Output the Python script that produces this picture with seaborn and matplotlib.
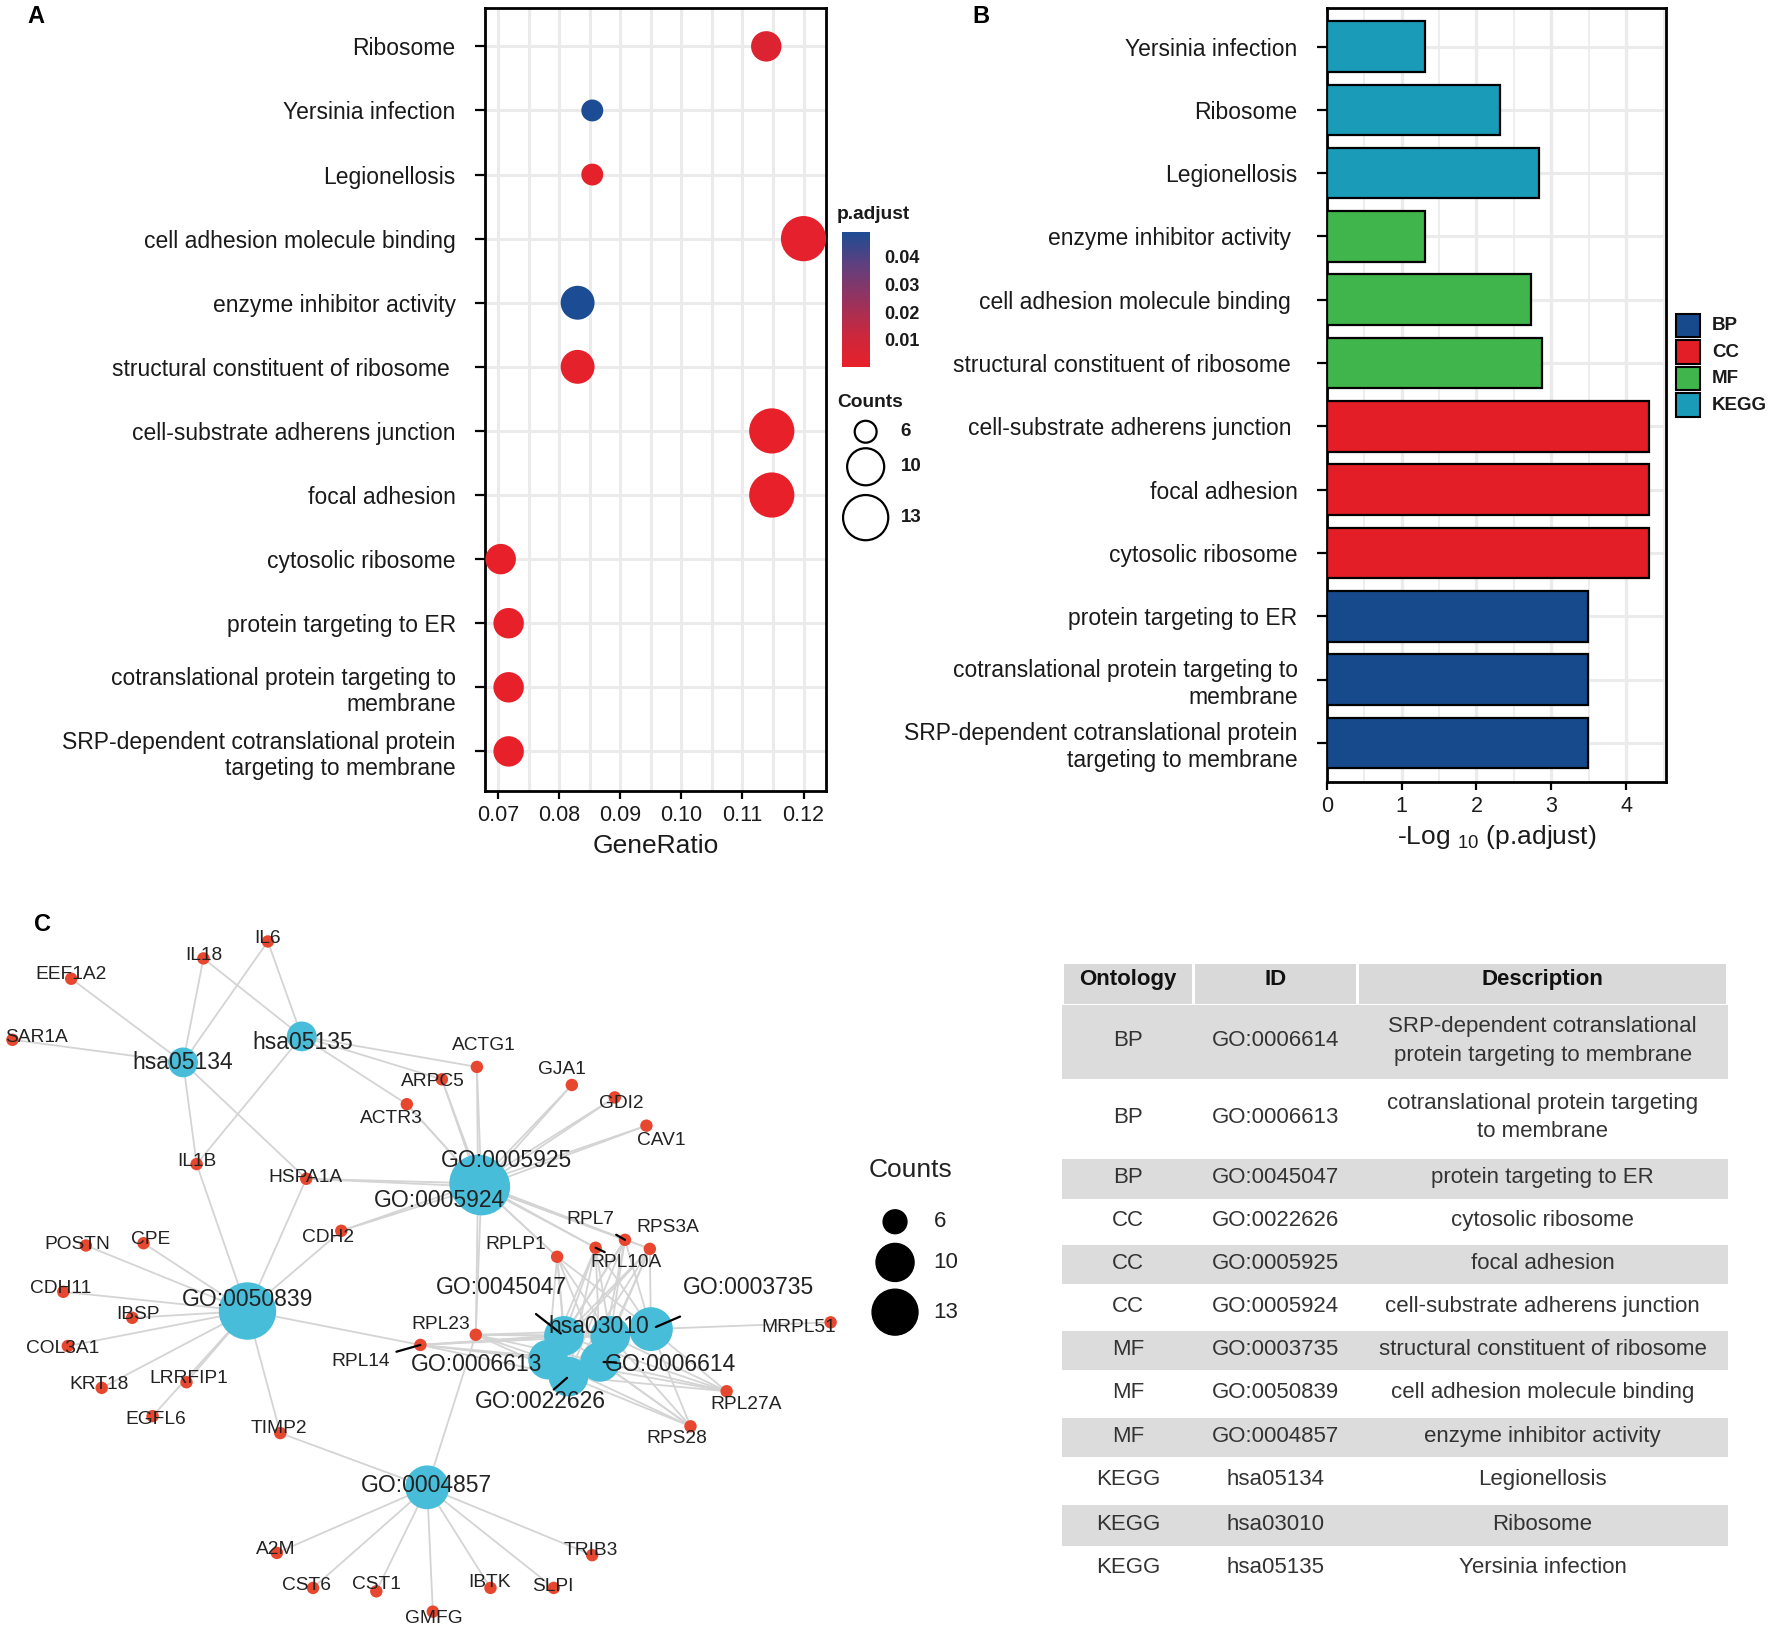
import numpy as np
import pandas as pd
import matplotlib
matplotlib.use("Agg")
import matplotlib.pyplot as plt
import seaborn as sns
from matplotlib.colors import LinearSegmentedColormap, Normalize
from matplotlib.cm import ScalarMappable
from matplotlib.patches import Rectangle

# ---------------- data ----------------
ontology = ['BP', 'BP', 'BP', 'CC', 'CC', 'CC', 'MF', 'MF', 'MF', 'KEGG', 'KEGG', 'KEGG']
term_id = ['GO:0006614', 'GO:0006613', 'GO:0045047', 'GO:0022626', 'GO:0005925', 'GO:0005924',
           'GO:0003735', 'GO:0050839', 'GO:0004857', 'hsa05134', 'hsa03010', 'hsa05135']
description = ['SRP-dependent cotranslational protein targeting to membrane',
               'cotranslational protein targeting to membrane',
               'protein targeting to ER', 'cytosolic ribosome', 'focal adhesion',
               'cell-substrate adherens junction', 'structural constituent of ribosome',
               'cell adhesion molecule binding', 'enzyme inhibitor activity',
               'Legionellosis', 'Ribosome', 'Yersinia infection']
gene_ratio = [0.0717, 0.0717, 0.0717, 0.0704, 0.1148, 0.1148, 0.0830, 0.1200, 0.0830, 0.0854, 0.1139, 0.0854]
counts = [8, 8, 8, 8, 13, 13, 9, 13, 9, 6, 8, 6]
p_adjust = [3.2e-4, 3.2e-4, 3.2e-4, 5.0e-5, 5.0e-5, 5.0e-5, 1.35e-3, 1.86e-3, 0.049, 1.45e-3, 4.9e-3, 0.049]

orderA = ['Ribosome', 'Yersinia infection', 'Legionellosis', 'cell adhesion molecule binding',
          'enzyme inhibitor activity', 'structural constituent of ribosome',
          'cell-substrate adherens junction', 'focal adhesion', 'cytosolic ribosome',
          'protein targeting to ER', 'cotranslational protein targeting to membrane',
          'SRP-dependent cotranslational protein targeting to membrane']

axis_labels = {
    'SRP-dependent cotranslational protein targeting to membrane':
        'SRP-dependent cotranslational protein\ntargeting to membrane',
    'cotranslational protein targeting to membrane':
        'cotranslational protein targeting to\nmembrane',
}
labelsB_trailing = ['enzyme inhibitor activity', 'cell adhesion molecule binding',
                    'structural constituent of ribosome', 'cell-substrate adherens junction']
labelsA_trailing = ['structural constituent of ribosome']
table_labels = {
    'SRP-dependent cotranslational protein targeting to membrane':
        'SRP-dependent cotranslational\nprotein targeting to membrane',
    'cotranslational protein targeting to membrane':
        'cotranslational protein targeting\nto membrane',
}

onto_order = ['BP', 'CC', 'MF', 'KEGG']
onto_colors = ['#164A8C', '#E41E26', '#3FB54B', '#1A9BB8']

# network (layout coordinates)
genes = ['IL6', 'IL18', 'EEF1A2', 'SAR1A', 'IL1B', 'HSPA1A', 'ACTG1', 'ARPC5', 'ACTR3', 'GJA1',
         'GDI2', 'CAV1', 'CDH2', 'POSTN', 'CPE', 'CDH11', 'IBSP', 'COL3A1', 'KRT18', 'LRRFIP1',
         'EGFL6', 'TIMP2', 'RPL23', 'RPL14', 'RPLP1', 'RPL7', 'RPS3A', 'RPL10A', 'MRPL51',
         'RPL27A', 'RPS28', 'A2M', 'CST6', 'CST1', 'GMFG', 'IBTK', 'SLPI', 'TRIB3']
gene_x = [237, 180, 63, 11, 174, 271, 422, 391, 360, 506, 544, 572, 302, 76, 127, 56, 117, 60, 90,
          165, 135, 248, 421, 372, 493, 553, 575, 527, 735, 643, 611, 245, 277, 333, 383, 434, 490, 524]
gene_y = [833, 848, 866, 920, 1030, 1043, 944, 955, 977, 960, 971, 996, 1089, 1102, 1100, 1143,
          1166, 1191, 1228, 1223, 1253, 1268, 1181, 1190, 1112, 1097, 1105, 1104, 1170, 1231, 1262,
          1374, 1405, 1408, 1426, 1405, 1405, 1376]
gene_label_off = {
    'IL6': (0, -3), 'IL18': (0, -3), 'EEF1A2': (0, -4), 'SAR1A': (21, -2), 'IL1B': (0, -2),
    'HSPA1A': (-1, -1), 'ACTG1': (6, -19), 'ARPC5': (-8, 2), 'ACTR3': (-14, 13), 'GJA1': (-9, -14),
    'GDI2': (6, 5), 'CAV1': (13, 13), 'CDH2': (-12, 6), 'POSTN': (-8, -1), 'CPE': (6, -3),
    'CDH11': (-2, -3), 'IBSP': (5, -3), 'COL3A1': (-5, 2), 'KRT18': (-2, -3), 'LRRFIP1': (2, -3),
    'EGFL6': (3, 3), 'TIMP2': (-1, -4), 'RPL23': (-31, -9), 'RPL14': (-53, 15), 'RPLP1': (-37, -11),
    'RPL7': (-31, -18), 'RPS3A': (16, -19), 'RPL10A': (27, 13), 'MRPL51': (-28, 5),
    'RPL27A': (17, 12), 'RPS28': (-12, 11), 'A2M': (-1, -3), 'CST6': (-6, -2), 'CST1': (0, -6),
    'GMFG': (1, 6), 'IBTK': (-1, -5), 'SLPI': (-1, -1), 'TRIB3': (-1, -4)}

net_terms = ['hsa05134', 'hsa05135', 'GO:0005925', 'GO:0005924', 'GO:0050839', 'GO:0004857',
             'GO:0045047', 'hsa03010', 'GO:0003735', 'GO:0006613', 'GO:0006614', 'GO:0022626']
term_x = [162, 267, 423, 426, 219, 378, 499, 540, 576, 485, 531, 503]
term_y = [940, 917, 1047, 1050, 1160, 1316, 1182, 1182, 1176, 1203, 1205, 1218]
term_label_off = {
    'hsa05134': (0, 0), 'hsa05135': (1, 5), 'GO:0005925': (25, -20), 'GO:0005924': (-37, 12),
    'GO:0050839': (0, -10), 'GO:0004857': (-1, -2), 'GO:0045047': (-55, -43),
    'hsa03010': (-10, -8), 'GO:0003735': (86, -37), 'GO:0006613': (-63, 4),
    'GO:0006614': (62, 2), 'GO:0022626': (-25, 22)}
leader_start = {'GO:0045047': 0.55, 'GO:0003735': 0.7, 'GO:0006614': 0.77,
                'GO:0022626': 0.48, 'RPL14': 0.6, 'RPL7': 0.75, 'RPL10A': 0.7}

ribo8 = ['RPLP1', 'RPL7', 'RPL10A', 'RPS3A', 'RPL23', 'RPL14', 'RPL27A', 'RPS28']
adh13 = ['ACTG1', 'ARPC5', 'ACTR3', 'GJA1', 'GDI2', 'CAV1', 'HSPA1A', 'CDH2', 'RPL7', 'RPS3A',
         'RPL10A', 'RPLP1', 'RPL23']
term_genes = {
    'hsa05134': ['EEF1A2', 'SAR1A', 'IL18', 'IL6', 'IL1B', 'HSPA1A'],
    'hsa05135': ['IL18', 'IL6', 'IL1B', 'ACTG1', 'ARPC5', 'ACTR3'],
    'GO:0005925': adh13,
    'GO:0005924': adh13,
    'GO:0050839': ['POSTN', 'CPE', 'CDH11', 'IBSP', 'COL3A1', 'KRT18', 'LRRFIP1', 'EGFL6',
                   'TIMP2', 'IL1B', 'HSPA1A', 'CDH2', 'RPL14'],
    'GO:0004857': ['A2M', 'CST6', 'CST1', 'GMFG', 'IBTK', 'SLPI', 'TRIB3', 'TIMP2', 'RPL23'],
    'GO:0045047': ribo8, 'hsa03010': ribo8, 'GO:0003735': ribo8 + ['MRPL51'],
    'GO:0006613': ribo8, 'GO:0006614': ribo8, 'GO:0022626': ribo8,
}
legend_counts = [6, 10, 13]

# ---------------- setup ----------------
sns.set_style("white")
plt.rcParams['font.family'] = ['Liberation Sans', 'DejaVu Sans']
plt.rcParams['mathtext.fontset'] = 'custom'
plt.rcParams['mathtext.rm'] = 'Liberation Sans'
plt.rcParams['mathtext.it'] = 'Liberation Sans:italic'

W, H = 1568.0, 1444.0
fig = plt.figure(figsize=(17.72, 16.32), dpi=100)


def rect(x0, y0, x1, y1):
    return [x0 / W, 1 - y1 / H, (x1 - x0) / W, (y1 - y0) / H]


df = pd.DataFrame({'Ontology': ontology, 'ID': term_id, 'Description': description,
                   'GeneRatio': gene_ratio, 'Count': counts, 'p.adjust': p_adjust})
df['neglog'] = -np.log10(df['p.adjust'])

TXT = '#1a1a1a'
GRID = '#EBEBEB'

# ---------------- panel A ----------------
dfA = df.set_index('Description').loc[orderA].reset_index()
dfA['label'] = [axis_labels.get(d, d) + (' ' if d in labelsA_trailing else '') for d in dfA['Description']]
cmap = LinearSegmentedColormap.from_list(
    'padj', [(0.0, '#E8202A'), (0.25, '#C9283E'), (0.5, '#96335E'), (0.75, '#623F7E'), (1.0, '#1C4C94')])
norm = Normalize(vmin=min(p_adjust), vmax=max(p_adjust))
sizeA = (249, 1059)

axA = fig.add_axes(rect(429, 7, 731, 700))
sns.scatterplot(data=dfA, x='GeneRatio', y='label', hue='p.adjust', hue_norm=norm, palette=cmap,
                size='Count', size_norm=(6, 13), sizes=sizeA, legend=False, edgecolor='none',
                ax=axA, zorder=3)
axA.set_xlim(0.0678, 0.1237)
axA.set_ylim(len(orderA) - 1 + 0.62, -0.6)
axA.set_xticks([0.07, 0.08, 0.09, 0.10, 0.11, 0.12])
axA.set_xticklabels(['0.07', '0.08', '0.09', '0.10', '0.11', '0.12'])
axA.set_xticks([0.075, 0.085, 0.095, 0.105, 0.115], minor=True)
axA.set_axisbelow(True)
axA.grid(True, which='both', axis='x', color=GRID, lw=2.2)
axA.grid(True, which='major', axis='y', color=GRID, lw=2.2)
axA.tick_params(axis='y', which='major', length=7, width=1.6, color='black', pad=14,
                labelsize=16.5, labelcolor=TXT, left=True)
axA.tick_params(axis='x', which='major', length=6, width=1.6, color='black', pad=4,
                labelsize=15.5, labelcolor=TXT, bottom=True)
axA.tick_params(which='minor', length=0)
for s in axA.spines.values():
    s.set_color('black')
    s.set_linewidth(2)
axA.set_ylabel('')
axA.set_xlabel('GeneRatio', fontsize=19, color=TXT, labelpad=6)

# colorbar
cax = fig.add_axes(rect(745, 205, 770, 325))
cb = fig.colorbar(ScalarMappable(norm=norm, cmap=cmap), cax=cax)
cb.outline.set_visible(False)
cb.set_ticks([0.01, 0.02, 0.03, 0.04])
cb.set_ticklabels(['0.01', '0.02', '0.03', '0.04'])
cax.tick_params(direction='in', color='white', length=5, width=1.3, left=True, right=True,
                labelsize=13, pad=10, labelcolor=TXT)
for t in cax.get_yticklabels():
    t.set_fontweight('bold')

# ---------------- panel B ----------------
dfB = df.iloc[::-1].reset_index(drop=True)
dfB['label'] = [axis_labels.get(d, d) + (' ' if d in labelsB_trailing else '') for d in dfB['Description']]
axB = fig.add_axes(rect(1174, 7, 1474, 692))
sns.barplot(data=dfB, x='neglog', y='label', order=list(dfB['label']), hue='Ontology',
            hue_order=onto_order, palette=onto_colors, dodge=False, width=0.8, saturation=1,
            edgecolor='black', linewidth=1.6, legend=False, ax=axB, zorder=3)
axB.set_xlim(0, 4.53)
axB.set_ylim(len(dfB) - 1 + 0.62, -0.61)
axB.set_xticks([0, 1, 2, 3, 4])
axB.set_xticks([0.5, 1.5, 2.5, 3.5, 4.5], minor=True)
axB.set_axisbelow(True)
axB.grid(True, which='major', axis='x', color=GRID, lw=2.4)
axB.grid(True, which='minor', axis='x', color=GRID, lw=1.2)
axB.grid(True, which='major', axis='y', color=GRID, lw=2.2)
axB.tick_params(axis='y', which='major', length=7, width=1.6, color='black', pad=14,
                labelsize=16.5, labelcolor=TXT, left=True)
axB.tick_params(axis='x', which='major', length=6, width=1.6, color='black', pad=4,
                labelsize=15.5, labelcolor=TXT, bottom=True)
axB.tick_params(which='minor', length=0)
for s in axB.spines.values():
    s.set_color('black')
    s.set_linewidth(2)
axB.set_ylabel('')
axB.set_xlabel(r'-Log $_{10}$ (p.adjust)', fontsize=19, color=TXT, labelpad=4)

# ---------------- overlay (legends, network, table) ----------------
ov = fig.add_axes([0, 0, 1, 1])
ov.set_xlim(0, W)
ov.set_ylim(H, 0)
ov.axis('off')
ov.patch.set_visible(False)

# panel letters
for lab, (x, y) in zip(['A', 'B', 'C'], [(32, 15), (868, 15), (38, 818)]):
    ov.text(x, y, lab, fontsize=17, fontweight='bold', ha='center', va='center', color='black')

# panel A legends
ov.text(740, 190, 'p.adjust', fontsize=13.8, fontweight='bold', ha='left', va='center', color=TXT)
ov.text(741, 356, 'Counts', fontsize=13.8, fontweight='bold', ha='left', va='center', color=TXT)
legA_y = [382, 413, 458]
legA_s = [sizeA[0] + (sizeA[1] - sizeA[0]) * (c - 6) / 7 for c in legend_counts]
ov.scatter([766] * 3, legA_y, s=legA_s, facecolor='white', edgecolor='black', linewidths=1.6, zorder=4)
for c, y in zip(legend_counts, legA_y):
    ov.text(797, y, str(c), fontsize=13.5, fontweight='bold', ha='left', va='center', color=TXT)

# panel B legend
for i, (o, col) in enumerate(zip(onto_order, onto_colors)):
    yc = 288 + i * 23.5
    ov.add_patch(Rectangle((1483, yc - 10.5), 21, 21, facecolor=col, edgecolor='black', lw=1.5, zorder=4))
    ov.text(1515, yc, o, fontsize=13.5, fontweight='bold', ha='left', va='center', color=TXT)

# network
gpos = {g: (x, y) for g, x, y in zip(genes, gene_x, gene_y)}
tpos = {t: (x, y) for t, x, y in zip(net_terms, term_x, term_y)}
for t in net_terms:
    tx, ty = tpos[t]
    for g in term_genes[t]:
        gx, gy = gpos[g]
        ov.plot([tx, gx], [ty, gy], color='#D4D4D4', lw=1.3, zorder=1, solid_capstyle='round')


def node_s(c):
    return 460 + 178 * (c - 6)


term_counts = [len(term_genes[t]) for t in net_terms]
ov.scatter(term_x, term_y, s=[node_s(c) for c in term_counts], color='#47BDD9',
           edgecolor='none', zorder=2)
ov.scatter(gene_x, gene_y, s=80, color='#E8472F', edgecolor='none', zorder=3)

for t in net_terms:
    tx, ty = tpos[t]
    dx, dy = term_label_off[t]
    lx, ly = tx + dx, ty + dy
    if t in leader_start:
        f = leader_start[t]
        ov.plot([lx + f * (tx - lx), tx - 0.05 * (tx - lx)], [ly + f * (ty - ly), ty - 0.05 * (ty - ly)],
                color='black', lw=1.6, zorder=4)
    ov.text(lx, ly, t, fontsize=16.5, ha='center', va='center', color='#222222', zorder=5)
for g in genes:
    gx, gy = gpos[g]
    dx, dy = gene_label_off[g]
    lx, ly = gx + dx, gy + dy
    if g in leader_start:
        f = leader_start[g]
        ov.plot([lx + f * (gx - lx), gx], [ly + f * (gy - ly), gy], color='black', lw=1.6, zorder=4)
    ov.text(lx, ly, g, fontsize=13.8, ha='center', va='center', color='#222222', zorder=5)

# network legend
ov.text(806, 1035, 'Counts', fontsize=19, ha='center', va='center', color='#222222')
legC_y = [1081, 1117, 1161]
ov.scatter([792] * 3, legC_y, s=[0.64 * node_s(c) for c in legend_counts], color='black', zorder=4)
for c, y in zip(legend_counts, legC_y):
    ov.text(826, y, str(c), fontsize=16, ha='left', va='center', color='#222222')

# table
col_edges = [940, 1056, 1201, 1529]
row_edges = [888, 956, 1024, 1062, 1100, 1138, 1176, 1214, 1253, 1291, 1330, 1369, 1407]
headers = ['Ontology', 'ID', 'Description']
for j, h in enumerate(headers):
    x0, x1 = col_edges[j], col_edges[j + 1]
    ov.add_patch(Rectangle((x0 + 1.5, 853), x1 - x0 - 3, 35, facecolor='#D9D9D9', edgecolor='none'))
    ov.text((x0 + x1) / 2, 867, h, fontsize=16, fontweight='bold', ha='center', va='center', color='#111111')
for i in range(len(df)):
    y0, y1 = row_edges[i], row_edges[i + 1]
    if i % 2 == 0:
        ov.add_patch(Rectangle((col_edges[0], y0 + 1.5), col_edges[-1] - col_edges[0], y1 - y0 - 3,
                               facecolor='#DCDCDC', edgecolor='none'))
    yc = (y0 + y1) / 2
    cells = [df['Ontology'][i], df['ID'][i], table_labels.get(df['Description'][i], df['Description'][i])]
    for j, txt in enumerate(cells):
        ov.text((col_edges[j] + col_edges[j + 1]) / 2, yc - 1, txt, fontsize=16, ha='center',
                va='center', color='#333333', linespacing=1.45)

fig.savefig('out.png', dpi=100)
